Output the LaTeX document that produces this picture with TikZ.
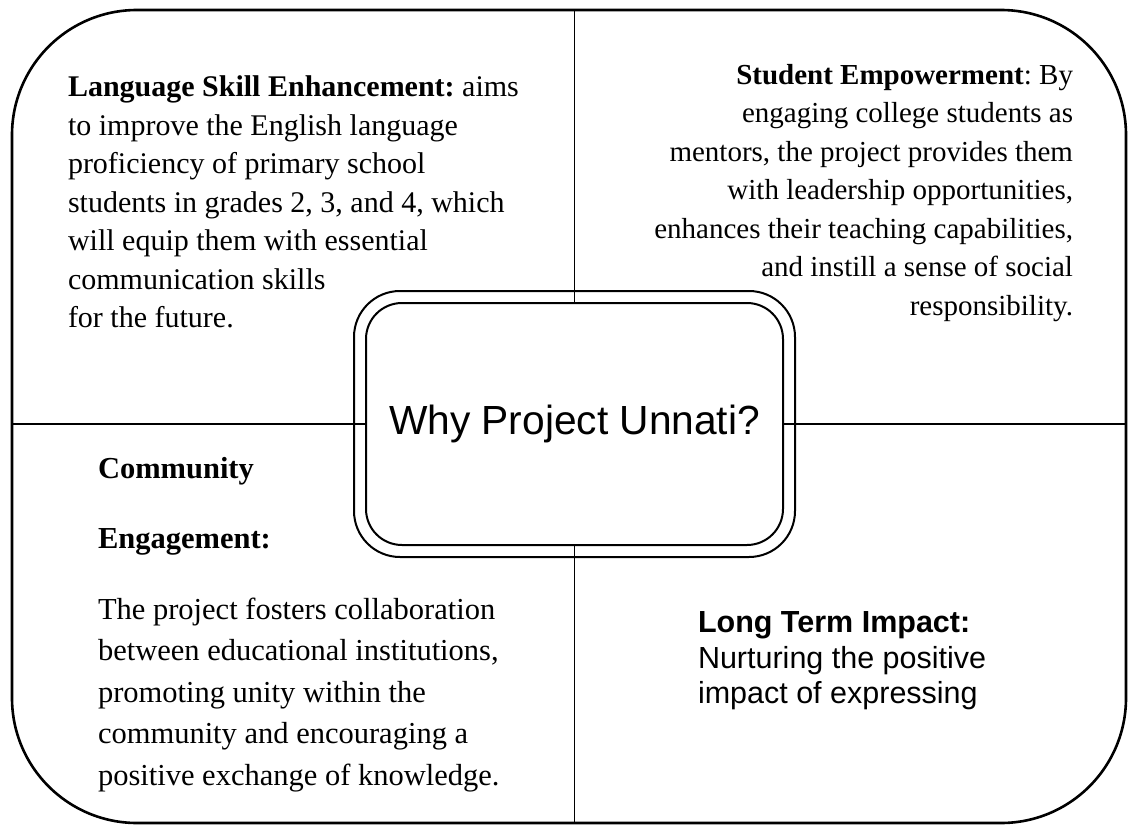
\documentclass[tikz,border=0pt]{standalone}
\usepackage{fontspec}
\setmainfont{Liberation Serif}
\setsansfont{Liberation Sans}
\frenchspacing
\usetikzlibrary{positioning, fit, calc}
\tikzset{
  framebox/.style={
    rectangle, draw=black, line width=2.6pt, rounded corners=125pt,
    minimum width=1114pt, minimum height=813pt, inner sep=0pt, outer sep=0pt
  },
  hubblock/.style={
    rectangle, draw=black, line width=2pt, rounded corners=36pt,
    minimum width=417pt, minimum height=242pt, outer sep=0pt,
    font=\sffamily\fontsize{40.7}{48}\selectfont
  },
  hubring/.style={rectangle, draw=black, line width=2pt, rounded corners=46pt, inner sep=12pt},
  noteblock/.style={inner sep=0pt, outer sep=0pt, font=\fontsize{29}{38.5}\selectfont},
  divline/.style={draw=black, line width=1.8pt}
}

\begin{document}
\begin{tikzpicture}[x=1pt, y=-1pt]
  \useasboundingbox (0,0) rectangle (1128,827);

  % Outer frame
  \node[framebox] (frame) at (569,416.5) {};

  % Central hub with its double outline
  \node[hubblock] (hub) at (574.5,424) {\raisebox{-2pt}{Why Project Unnati?}};
  \node[hubring, fit=(hub)] (ring) {};

  % Quadrant dividers (frame to hub)
  \draw[divline] (hub.north) -- (hub.north |- frame.north);
  \draw[divline] (hub.south) -- (hub.south |- frame.south);
  \draw[divline] (hub.west) -- (hub.west -| frame.west);
  \draw[divline] (hub.east) -- (hub.east -| frame.east);

  % Top left: language skills
  \node[noteblock, anchor=north west, align=left, font=\fontsize{30}{38.5}\selectfont] (skills) at (68,76) {
    \textbf{Language Skill Enhancement:} aims\\
    to improve the English language\\
    proficiency of primary school\\
    students in grades 2, 3, and 4, which\\
    will equip them with essential\\
    communication skills\\
    for the future.
  };

  % Top right: student empowerment
  \node[noteblock, anchor=north east, align=right] (empower) at (1073,64) {
    \textbf{Student Empowerment}: By\\
    engaging college students as\\
    mentors, the project provides them\\
    with leadership opportunities,\\
    enhances their teaching capabilities,\\
    and instill a sense of social\\
    responsibility.
  };

  % Bottom left: community engagement
  \node[noteblock, anchor=north west, align=left, font=\fontsize{30.5}{41.5}\selectfont] (community) at (98,457) {
    \textbf{Community}\\[28.5pt]
    \textbf{Engagement:}\\[29.5pt]
    The project fosters collaboration\\
    between educational institutions,\\
    promoting unity within the\\
    community and encouraging a\\
    positive exchange of knowledge.
  };

  % Bottom right: long term impact
  \node[noteblock, anchor=north west, align=left, font=\sffamily\fontsize{30.5}{35.5}\selectfont] (impact) at (698,612) {
    \textbf{Long Term Impact:}\\
    Nurturing the positive\\
    impact of expressing
  };

\end{tikzpicture}
\end{document}
